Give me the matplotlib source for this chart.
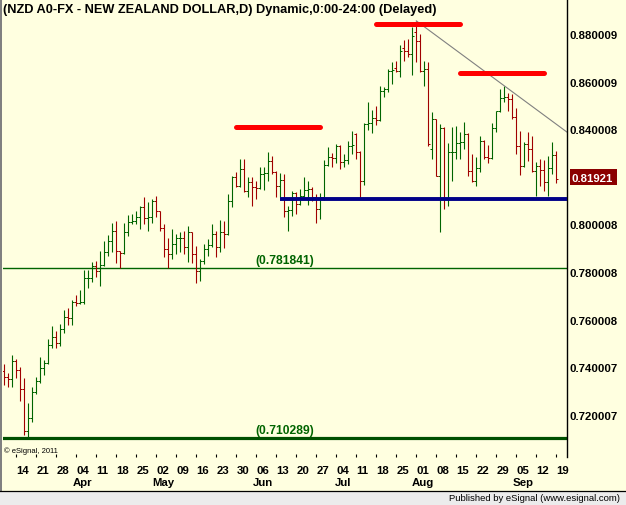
import numpy as np
import pandas as pd
import matplotlib
matplotlib.use('Agg')
import matplotlib.pyplot as plt
from matplotlib.patches import Rectangle
from matplotlib.lines import Line2D
import matplotlib.transforms as mtransforms

plt.rcParams['font.family'] = ['Liberation Sans', 'DejaVu Sans']

# ---------------- data ----------------
dates = pd.bdate_range('2011-03-09', '2011-09-19')

opens = [0.7386, 0.7358, 0.7350, 0.7425, 0.7388, 0.7308, 0.7134, 0.7186, 0.7295, 0.7344,
         0.7396, 0.7420, 0.7493, 0.7527, 0.7501, 0.7560, 0.7613, 0.7608, 0.7674, 0.7669,
         0.7676, 0.7774, 0.7777, 0.7827, 0.7805, 0.7830, 0.7883, 0.7932, 0.7973, 0.7889,
         0.7880, 0.7970, 0.8012, 0.8016, 0.8031, 0.8072, 0.8027, 0.8031, 0.8100, 0.8055,
         0.7985, 0.7897, 0.7876, 0.7918, 0.7942, 0.7945, 0.7904, 0.7967, 0.7876, 0.7806,
         0.7845, 0.7897, 0.7915, 0.7960, 0.7904, 0.7967, 0.7962, 0.8100, 0.8198, 0.8162,
         0.8233, 0.8142, 0.8177, 0.8156, 0.8152, 0.8212, 0.8216, 0.8268, 0.8219, 0.8163,
         0.8187, 0.8057, 0.8061, 0.8132, 0.8086, 0.8121, 0.8146, 0.8149, 0.8114, 0.8065,
         0.8114, 0.8250, 0.8282, 0.8279, 0.8331, 0.8261, 0.8271, 0.8328, 0.8380, 0.8303,
         0.8181, 0.8422, 0.8426, 0.8447, 0.8439, 0.8562, 0.8568, 0.8646, 0.8656, 0.8646,
         0.8740, 0.8728, 0.8716, 0.8808, 0.8769, 0.8646, 0.8653, 0.8317, 0.8443, 0.8205,
         0.8405, 0.8107, 0.8303, 0.8305, 0.8342, 0.8346, 0.8380, 0.8223, 0.8181, 0.8236,
         0.8352, 0.8282, 0.8278, 0.8405, 0.8475, 0.8530, 0.8535, 0.8527, 0.8450, 0.8331,
         0.8247, 0.8338, 0.8317, 0.8226, 0.8247, 0.8230, 0.8177, 0.8236, 0.8292]
highs = [0.7414, 0.7376, 0.7452, 0.7435, 0.7401, 0.7355, 0.7250, 0.7317, 0.7361, 0.7443,
         0.7432, 0.7519, 0.7574, 0.7553, 0.7582, 0.7641, 0.7649, 0.7683, 0.7705, 0.7725,
         0.7809, 0.7809, 0.7841, 0.7847, 0.7889, 0.7931, 0.7957, 0.8006, 0.8015, 0.7890,
         0.8006, 0.8040, 0.8044, 0.8057, 0.8079, 0.8114, 0.8093, 0.8107, 0.8121, 0.8058,
         0.8002, 0.7943, 0.7981, 0.7960, 0.7967, 0.7971, 0.7995, 0.7970, 0.7911, 0.7855,
         0.7918, 0.7939, 0.8002, 0.7974, 0.8019, 0.8016, 0.8128, 0.8205, 0.8219, 0.8275,
         0.8275, 0.8198, 0.8198, 0.8184, 0.8240, 0.8240, 0.8303, 0.8289, 0.8226, 0.8216,
         0.8212, 0.8079, 0.8142, 0.8138, 0.8149, 0.8198, 0.8181, 0.8156, 0.8128, 0.8132,
         0.8271, 0.8327, 0.8300, 0.8338, 0.8335, 0.8296, 0.8352, 0.8391, 0.8383, 0.8307,
         0.8426, 0.8513, 0.8481, 0.8499, 0.8583, 0.8576, 0.8653, 0.8681, 0.8685, 0.8755,
         0.8775, 0.8779, 0.8828, 0.8855, 0.8800, 0.8688, 0.8681, 0.8471, 0.8445, 0.8422,
         0.8408, 0.8342, 0.8408, 0.8412, 0.8390, 0.8429, 0.8384, 0.8296, 0.8285, 0.8370,
         0.8355, 0.8334, 0.8426, 0.8478, 0.8569, 0.8580, 0.8552, 0.8548, 0.8488, 0.8394,
         0.8345, 0.8387, 0.8373, 0.8261, 0.8275, 0.8272, 0.8289, 0.8345, 0.8310]
lows = [0.7327, 0.7319, 0.7319, 0.7357, 0.7259, 0.7117, 0.7109, 0.7172, 0.7287, 0.7333,
        0.7369, 0.7414, 0.7481, 0.7483, 0.7490, 0.7544, 0.7578, 0.7579, 0.7658, 0.7667,
        0.7667, 0.7733, 0.7757, 0.7781, 0.7743, 0.7827, 0.7869, 0.7883, 0.7838, 0.7816,
        0.7875, 0.7953, 0.8002, 0.8002, 0.7981, 0.8002, 0.7971, 0.8005, 0.8030, 0.7971,
        0.7862, 0.7817, 0.7855, 0.7876, 0.7883, 0.7876, 0.7841, 0.7837, 0.7753, 0.7764,
        0.7834, 0.7869, 0.7904, 0.7862, 0.7883, 0.7901, 0.7958, 0.8072, 0.8156, 0.8158,
        0.8135, 0.8114, 0.8076, 0.8107, 0.8148, 0.8145, 0.8184, 0.8212, 0.8117, 0.8115,
        0.8031, 0.7974, 0.8037, 0.8044, 0.8080, 0.8114, 0.8082, 0.8097, 0.8006, 0.8023,
        0.8103, 0.8247, 0.8243, 0.8257, 0.8233, 0.8240, 0.8254, 0.8296, 0.8275, 0.8111,
        0.8167, 0.8397, 0.8384, 0.8419, 0.8435, 0.8534, 0.8555, 0.8590, 0.8639, 0.8621,
        0.8688, 0.8702, 0.8629, 0.8681, 0.8639, 0.8583, 0.8330, 0.8275, 0.8202, 0.7967,
        0.8065, 0.8079, 0.8184, 0.8275, 0.8275, 0.8317, 0.8205, 0.8177, 0.8163, 0.8219,
        0.8275, 0.8258, 0.8275, 0.8387, 0.8472, 0.8513, 0.8478, 0.8443, 0.8296, 0.8208,
        0.8243, 0.8268, 0.8219, 0.8121, 0.8163, 0.8142, 0.8121, 0.8212, 0.8173]
closes = [0.7358, 0.7350, 0.7425, 0.7388, 0.7308, 0.7134, 0.7186, 0.7295, 0.7344, 0.7396,
          0.7420, 0.7493, 0.7527, 0.7501, 0.7560, 0.7613, 0.7608, 0.7674, 0.7669, 0.7676,
          0.7774, 0.7777, 0.7827, 0.7805, 0.7830, 0.7883, 0.7932, 0.7973, 0.7889, 0.7880,
          0.7970, 0.8012, 0.8016, 0.8031, 0.8072, 0.8027, 0.8031, 0.8100, 0.8055, 0.7985,
          0.7897, 0.7876, 0.7918, 0.7942, 0.7945, 0.7904, 0.7967, 0.7876, 0.7806, 0.7845,
          0.7897, 0.7915, 0.7960, 0.7904, 0.7967, 0.7962, 0.8100, 0.8198, 0.8162, 0.8233,
          0.8142, 0.8177, 0.8156, 0.8152, 0.8212, 0.8216, 0.8268, 0.8219, 0.8163, 0.8187,
          0.8057, 0.8061, 0.8132, 0.8086, 0.8121, 0.8146, 0.8149, 0.8114, 0.8065, 0.8114,
          0.8250, 0.8282, 0.8279, 0.8331, 0.8261, 0.8271, 0.8328, 0.8334, 0.8303, 0.8181,
          0.8422, 0.8426, 0.8447, 0.8439, 0.8562, 0.8568, 0.8646, 0.8649, 0.8646, 0.8727,
          0.8728, 0.8716, 0.8793, 0.8769, 0.8646, 0.8653, 0.8337, 0.8443, 0.8205, 0.8405,
          0.8107, 0.8303, 0.8305, 0.8342, 0.8346, 0.8380, 0.8223, 0.8181, 0.8236, 0.8352,
          0.8282, 0.8278, 0.8405, 0.8475, 0.8530, 0.8535, 0.8527, 0.8450, 0.8331, 0.8247,
          0.8338, 0.8317, 0.8226, 0.8247, 0.8230, 0.8177, 0.8236, 0.8292, 0.8192]

y_ticks = [0.720007, 0.740007, 0.760008, 0.780008, 0.800008,
           0.840008, 0.860009, 0.880009]
last_price_label = '0.81921'
title = '(NZD A0-FX - NEW ZEALAND DOLLAR,D) Dynamic,0:00-24:00 (Delayed)'
month_labels = ['Apr', 'May', 'Jun', 'Jul', 'Aug', 'Sep']

level_mid = 0.781841
level_low = 0.710289
support_level = 0.8105
support_start = '2011-06-14'
resist_levels = [0.8409, 0.8842, 0.8636]
resist_spans = [('2011-05-30', '2011-06-28'), ('2011-07-18', '2011-08-16'),
                ('2011-08-16', '2011-09-14')]
trend_start = ('2011-08-01', 0.8855)
trend_end_price = 0.8388

# ---------------- figure ----------------
W, H = 626, 506
BG = '#FFFFE0'
GREEN = '#006400'
RED = '#A00000'

fig = plt.figure(figsize=(W / 100, H / 100), dpi=100)
fig.patch.set_facecolor(BG)

ax_left, ax_right, ax_top, ax_bot = 3, 567, 0, 458
ax = fig.add_axes([ax_left / W, (H - ax_bot) / H, (ax_right - ax_left) / W, (ax_bot - ax_top) / H])
ax.set_facecolor(BG)

n = len(dates)
x = np.arange(n)
o = np.array(opens); h = np.array(highs); l = np.array(lows); c = np.array(closes)
cols = np.where(c < o, RED, GREEN)

lw = 1.0 * 72 / 100
ax.vlines(x, l, h, colors=cols, lw=lw * 1.1)
ax.hlines(o, x - 0.5, x, colors=cols, lw=lw)
ax.hlines(c, x, x + 0.5, colors=cols, lw=lw)

# pixel -> data mapping for x
px_per_bar = 4.0
x0_bar = 4.33
xlim = ((ax_left - x0_bar) / px_per_bar, (ax_right - x0_bar) / px_per_bar)
ax.set_xlim(*xlim)
ax.set_ylim(0.70236, 0.89470)

def idx(d):
    return int(np.searchsorted(dates, pd.Timestamp(d)))

blend = mtransforms.blended_transform_factory(ax.transAxes, ax.transData)

# horizontal reference lines
ax.axhline(level_mid, color=GREEN, lw=1.0, zorder=1)
ax.axhline(level_low, color='#005000', lw=2.3, zorder=1)
ax.annotate('(%.6f)' % level_mid, xy=(0.5, level_mid), xycoords=blend,
            xytext=(0, 5.5), textcoords='offset points', ha='center', va='center',
            fontsize=8.7, fontweight='bold', color=GREEN)
ax.annotate('(%.6f)' % level_low, xy=(0.5, level_low), xycoords=blend,
            xytext=(0, 5.5), textcoords='offset points', ha='center', va='center',
            fontsize=8.7, fontweight='bold', color=GREEN)

# support (blue)
ax.hlines(support_level, idx(support_start) - 0.1, xlim[1], color='#000088', lw=2.8, zorder=3)

# resistance (red)
for lev, (a, b) in zip(resist_levels, resist_spans):
    ax.add_line(Line2D([idx(a), idx(b)], [lev, lev], color='#FF0000', lw=3.6,
                       solid_capstyle='round', zorder=4))

# trend line
ax.add_line(Line2D([idx(trend_start[0]), xlim[1]], [trend_start[1], trend_end_price],
                   color='#808080', lw=0.8, zorder=2))

# spines
for s in ['top', 'left', 'bottom']:
    ax.spines[s].set_visible(False)
ax.spines['right'].set_color('black')
ax.spines['right'].set_linewidth(1.0)

# y axis on right
ax.yaxis.tick_right()
ax.set_yticks(y_ticks)
ax.set_yticklabels(['%.6f' % v for v in y_ticks])
ax.tick_params(axis='y', length=0, pad=1.5, labelsize=8.2)
for t in ax.get_yticklabels():
    t.set_fontweight('bold')

# x axis: Mondays
mondays = [i for i, d in enumerate(dates) if d.weekday() == 0]
ax.set_xticks(mondays)
ax.set_xticklabels([dates[i].strftime('%d') for i in mondays], ha='left')
ax.tick_params(axis='x', length=2.5, direction='in', pad=5.5, labelsize=8.2, width=0.8)
for t in ax.get_xticklabels():
    t.set_fontweight('bold')

# month labels under first Monday of each month
seen = set()
month_pos = []
for i in mondays:
    m = dates[i].month
    if m not in seen:
        seen.add(m)
        if dates[i].day <= 7:
            month_pos.append(i)
for i, lab in zip(month_pos, month_labels):
    ax.annotate(lab, xy=(i, 0), xycoords=mtransforms.blended_transform_factory(ax.transData, ax.transAxes),
                xytext=(4.8, -18.2), textcoords='offset points', ha='center', va='center',
                fontsize=8.2, fontweight='bold')

# title
fig.text(3 / W, 1 - 10 / H, title, ha='left', va='center', fontsize=9.2, fontweight='bold')

# copyright
fig.text(4 / W, 1 - 451 / H, '\u00a9 eSignal, 2011', ha='left', va='center', fontsize=5.5)

# last price box
fig.add_artist(Rectangle((570 / W, 1 - 186 / H), 47 / W, 16 / H, transform=fig.transFigure,
                         facecolor='#8B0000', edgecolor='none', zorder=5))
fig.text(572 / W, 1 - 178.5 / H, last_price_label, ha='left', va='center', fontsize=8.2,
         fontweight='bold', color='white', zorder=6)

# status bar
fig.add_artist(Rectangle((0, 0), 1, 14 / H, transform=fig.transFigure,
                         facecolor='#ECECEC', edgecolor='none', zorder=5))
fig.add_artist(Line2D([0, 1], [14.5 / H, 14.5 / H], transform=fig.transFigure,
                      color='black', lw=0.9, zorder=6))
fig.text(620 / W, 7 / H, 'Published by eSignal (www.esignal.com)', ha='right', va='center',
         fontsize=6.8, zorder=6)

# left border
fig.add_artist(Rectangle((0, 14 / H), 2 / W, 1 - 14 / H, transform=fig.transFigure,
                         facecolor='#808080', edgecolor='none', zorder=5))

fig.savefig('out.png', dpi=100, facecolor=fig.get_facecolor())
